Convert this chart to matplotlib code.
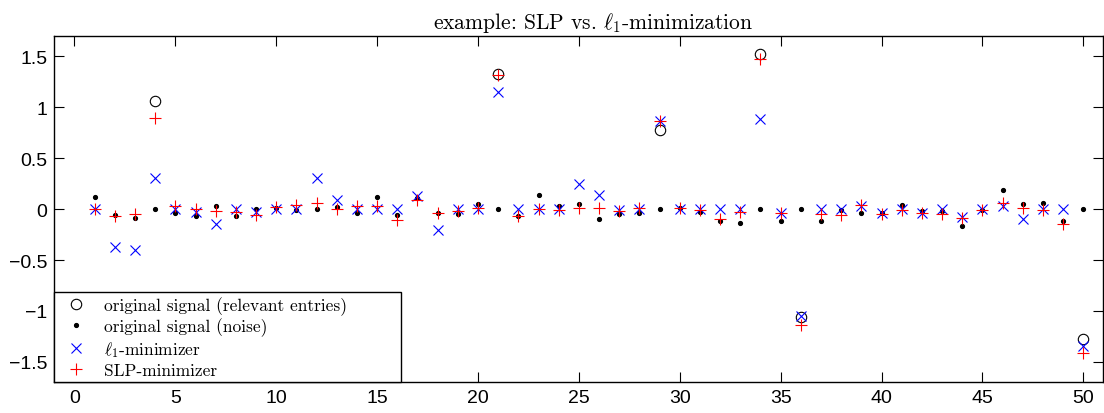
import numpy as np
import matplotlib
matplotlib.use("Agg")
import matplotlib.pyplot as plt

plt.rcParams['mathtext.fontset'] = 'cm'
plt.rcParams['axes.unicode_minus'] = True

# positions of the relevant (large) entries and their values
rel_idx = [4, 21, 29, 34, 36, 50]
rel_val = [1.06, 1.327, 0.78, 1.527, -1.059, -1.276]

# noise part of the original signal, entries 1..50
noise = [0.118, -0.06, -0.085, 0.0, -0.036, -0.065, 0.033, -0.065, 0.0, 0.013,
         -0.013, 0.0, 0.02, -0.033, 0.12, -0.056, 0.108, -0.033, -0.052, 0.046,
         0.0, -0.069, 0.134, 0.033, 0.046, -0.1, -0.046, -0.04, 0.0, 0.01,
         -0.026, -0.114, -0.137, 0.0, -0.114, 0.0, -0.118, -0.013, -0.04, -0.033,
         0.036, -0.02, -0.023, -0.167, -0.007, 0.186, 0.046, 0.062, -0.118, 0.0]

# l1-minimizer
l1 = [0.0, -0.375, -0.405, 0.306, 0.0, -0.026, -0.144, 0.0, -0.026, 0.0,
      0.0, 0.306, 0.086, 0.0, 0.0, 0.0, 0.128, -0.2, 0.0, 0.0,
      1.155, 0.0, 0.0, 0.0, 0.244, 0.135, -0.013, 0.0, 0.862, 0.0,
      0.0, 0.0, 0.0, 0.882, -0.033, -1.05, 0.0, 0.0, 0.033, -0.033,
      0.0, -0.036, 0.0, -0.075, 0.0, 0.033, -0.098, 0.0, 0.0, -1.343]

# SLP-minimizer
slp = [0.0, -0.07, -0.045, 0.892, 0.026, 0.0, -0.02, -0.026, -0.062, 0.02,
       0.036, 0.062, 0.0, 0.026, 0.026, -0.108, 0.085, -0.033, -0.016, 0.007,
       1.313, -0.072, 0.0, -0.013, 0.007, 0.01, -0.023, 0.016, 0.869, 0.016,
       -0.007, -0.095, -0.03, 1.478, -0.033, -1.134, -0.052, -0.056, 0.036, -0.046,
       -0.007, -0.04, -0.052, -0.085, -0.007, 0.059, 0.016, -0.007, -0.144, -1.415]

xticks = list(range(0, 51, 5))
yticks = [-1.5, -1, -0.5, 0, 0.5, 1, 1.5]
ytick_labels = ['\u22121.5', '\u22121', '\u22120.5', '0', '0.5', '1', '1.5']

n = np.arange(1, len(noise) + 1)

fig = plt.figure(figsize=(11.04, 4.14), dpi=100)
ax = fig.add_axes([0.0492, 0.0742, 0.9503, 0.8364])

ax.plot(rel_idx, rel_val, 'o', mfc='none', mec='k', ms=7.5, mew=0.8,
        label='original signal (relevant entries)')
ax.plot(n, noise, 'k.', ms=5.5, label='original signal (noise)')
ax.plot(n, l1, 'x', color='b', ms=6.5, mew=0.8, label=r'$\ell_1$-minimizer')
ax.plot(n, slp, '+', color='r', ms=8, mew=0.8, label='SLP-minimizer')

ax.set_xlim(-1, 51)
ax.set_ylim(-1.7, 1.7)
ax.set_xticks(xticks)
ax.set_yticks(yticks)
ax.set_yticklabels(ytick_labels)
ax.tick_params(direction='in', top=True, right=True, length=7, width=0.8,
               labelsize=14, pad=5)
for lab in ax.get_xticklabels() + ax.get_yticklabels():
    lab.set_fontfamily('Liberation Sans')
for sp in ax.spines.values():
    sp.set_linewidth(1.0)

ax.set_title(r'example: SLP vs. $\ell_1$-minimization', fontfamily='cmr10',
             fontsize=15.5, pad=6, x=0.514)

leg = ax.legend(loc='lower left', bbox_to_anchor=(0, 0, 0.33, 0.2),
                mode='expand', borderaxespad=0, fancybox=False,
                edgecolor='k', framealpha=1, numpoints=1,
                prop={'family': 'cmr10', 'size': 12.5},
                labelspacing=0.18, borderpad=0.25,
                handlelength=2.0, handletextpad=0.6)
leg.get_frame().set_linewidth(1.0)

plt.savefig('out.png', dpi=100)
plt.close("all")
